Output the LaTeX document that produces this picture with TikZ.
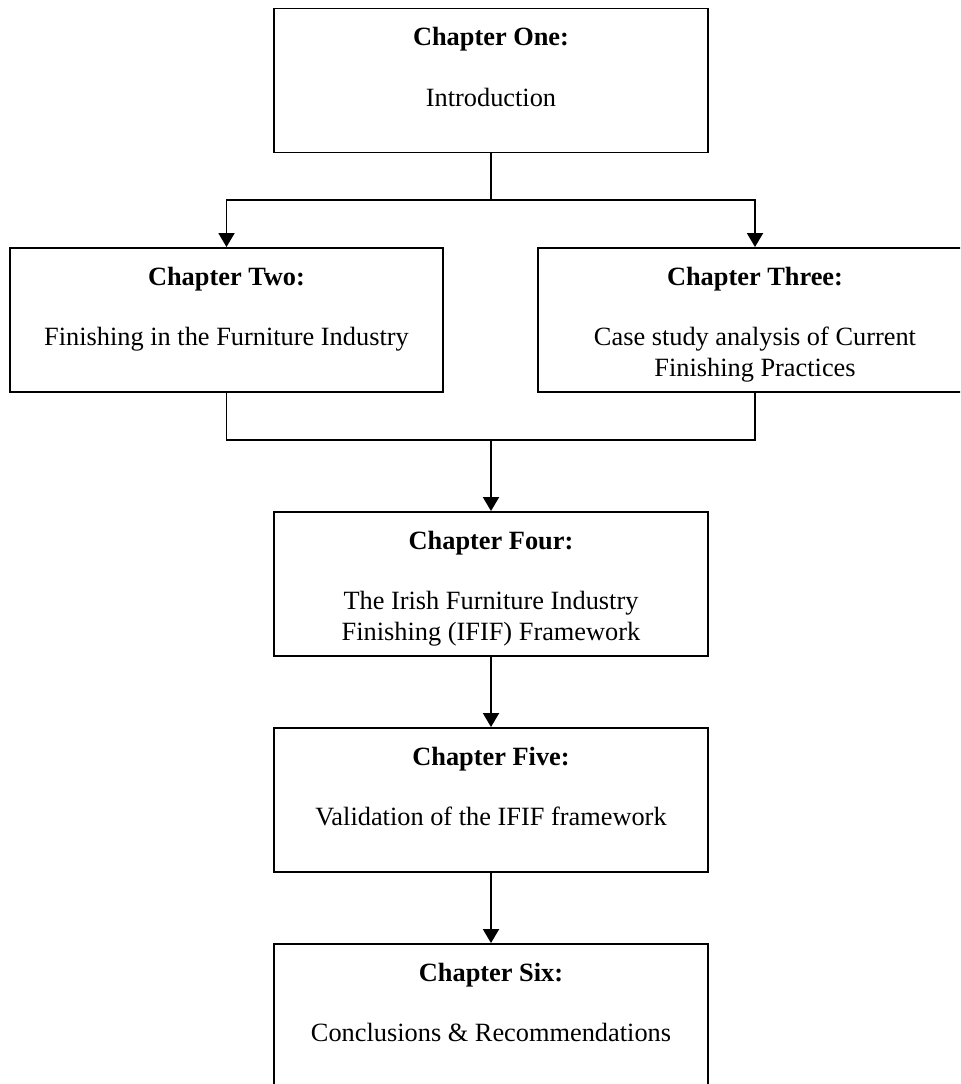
\documentclass[tikz,border=0pt]{standalone}
\usepackage{fontspec}
\setmainfont{Liberation Serif}
\usetikzlibrary{arrows.meta}
\newcommand{\chaptext}[2]{\parbox[c][2.88cm][t]{8.4cm}{\centering\fontsize{15}{17.25}\selectfont
  \vspace*{0.38cm}\textbf{#1}\par\vspace{17.25pt}#2}}
\tikzset{
  chapbox/.style={draw, line width=1.1pt, minimum width=8.68cm, minimum height=2.88cm, inner sep=0pt},
  flow/.style={line width=1.1pt, -{Triangle[width=0.32cm,length=0.28cm]}},
  link/.style={line width=1.1pt}
}
\begin{document}
\begin{tikzpicture}[x=0.02cm,y=-0.02cm]
            \clip (0,0) rectangle (960,1084);
            \node[chapbox] (one)   at (491,80.5) {\chaptext{Chapter One:}{Introduction}};
            \node[chapbox] (two)   at (226.5,320) {\chaptext{Chapter Two:}{Finishing in the Furniture Industry}};
            \node[chapbox] (three) at (755,320) {\chaptext{Chapter Three:}{Case study analysis of Current\\Finishing Practices}};
            \node[chapbox] (four)  at (491,584) {\chaptext{Chapter Four:}{The Irish Furniture Industry\\Finishing (IFIF) Framework}};
            \node[chapbox] (five)  at (491,800) {\chaptext{Chapter Five:}{Validation of the IFIF framework}};
            \node[chapbox] (six)   at (491,1016) {\chaptext{Chapter Six:}{Conclusions \& Recommendations}};
            \coordinate (split) at (491,200);
            \coordinate (merge) at (491,440);
            % split after chapter one
            \draw[link] (one) -- (split);
            \draw[flow] (split) -| (two);
            \draw[flow] (split) -| (three);
            % merge into chapter four
            \draw[link] (two) |- (merge);
            \draw[link] (three) |- (merge);
            \draw[flow] (merge) -- (four);
            \draw[flow] (four) -- (five);
            \draw[flow] (five) -- (six);
        \end{tikzpicture}
\end{document}
